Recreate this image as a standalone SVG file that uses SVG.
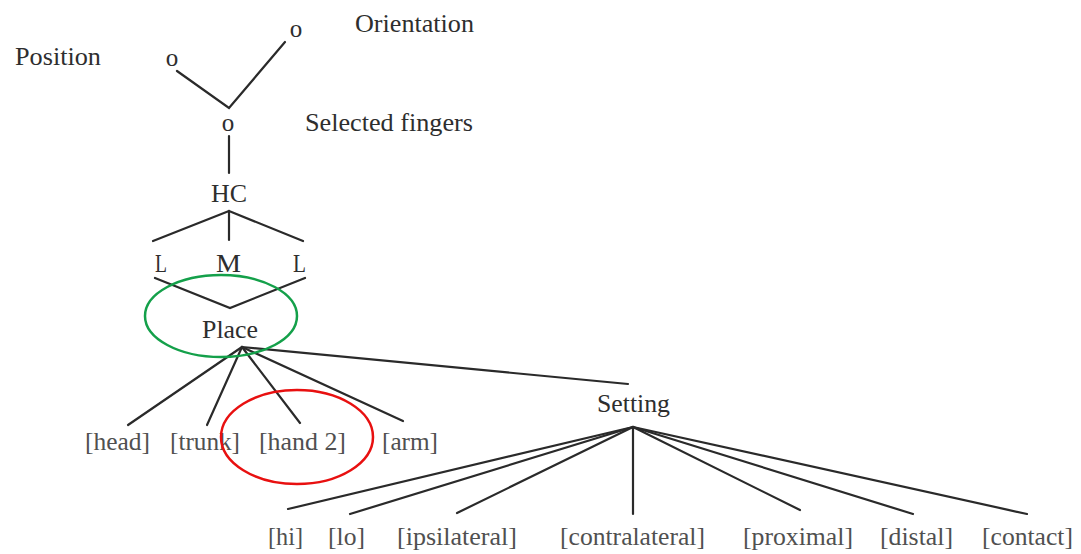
<svg xmlns="http://www.w3.org/2000/svg" width="1081" height="554" viewBox="0 0 1081 554">
<style>
text{font-family:"Liberation Serif","Times New Roman",serif;font-size:25px;fill:#2e2e2e}
.lbl{fill:#505050}
.c{text-anchor:middle}
#connectors line,#connectors polyline{stroke:#2a2a2a;stroke-width:2.2;fill:none;stroke-linecap:round}
.hl{fill:none;stroke-width:2.5}
</style>
<rect width="1081" height="554" fill="#fff"/>
<g id="connectors">
<polyline points="177,71 229,108 285,42"/>
<line x1="229" y1="136" x2="229" y2="173"/>
<line x1="229" y1="211" x2="153" y2="241"/>
<line x1="229" y1="211" x2="229" y2="240"/>
<line x1="229" y1="211" x2="303" y2="241"/>
<polyline points="155,278 230,308 305,278"/>
<line x1="242" y1="347" x2="128" y2="425"/>
<line x1="242" y1="347" x2="207" y2="425"/>
<line x1="242" y1="347" x2="300" y2="423"/>
<line x1="242" y1="347" x2="403" y2="421"/>
<line x1="242" y1="347" x2="628" y2="384"/>
<line x1="633" y1="427" x2="288" y2="509"/>
<line x1="633" y1="427" x2="350" y2="514"/>
<line x1="633" y1="427" x2="457" y2="513"/>
<line x1="633" y1="427" x2="633" y2="514"/>
<line x1="633" y1="427" x2="800" y2="510"/>
<line x1="633" y1="427" x2="913" y2="514"/>
<line x1="633" y1="427" x2="1027" y2="514"/>
</g>
<g id="position"><text x="15" y="65" textLength="86" lengthAdjust="spacingAndGlyphs">Position</text></g>
<g id="orientation"><text x="355" y="32" textLength="119" lengthAdjust="spacingAndGlyphs">Orientation</text></g>
<g id="selected-fingers"><text x="305" y="131" textLength="168" lengthAdjust="spacingAndGlyphs">Selected fingers</text></g>
<g id="o-left"><text class="c" x="172" y="66">o</text></g>
<g id="o-right"><text class="c" x="296" y="37">o</text></g>
<g id="o-center"><text class="c" x="228" y="131">o</text></g>
<g id="hc"><text x="211" y="202" textLength="36" lengthAdjust="spacingAndGlyphs">HC</text></g>
<g id="l-left"><text x="155" y="272" textLength="12" lengthAdjust="spacingAndGlyphs">L</text></g>
<g id="m"><text x="216" y="272" textLength="25" lengthAdjust="spacingAndGlyphs">M</text></g>
<g id="l-right"><text x="293" y="272" textLength="13" lengthAdjust="spacingAndGlyphs">L</text></g>
<g id="place"><text x="202" y="338" textLength="56" lengthAdjust="spacingAndGlyphs">Place</text>
<ellipse class="hl" cx="221" cy="316" rx="76" ry="41" stroke="#14a04a"/></g>
<g id="head"><text class="lbl" x="85" y="450" textLength="65" lengthAdjust="spacingAndGlyphs">[head]</text></g>
<g id="trunk"><text class="lbl" x="170" y="450" textLength="70" lengthAdjust="spacingAndGlyphs">[trunk]</text></g>
<g id="hand2"><text class="lbl" x="259" y="450" textLength="87" lengthAdjust="spacingAndGlyphs">[hand 2]</text>
<ellipse class="hl" cx="297" cy="437" rx="76" ry="47" stroke="#e81010"/></g>
<g id="arm"><text class="lbl" x="382" y="450" textLength="56" lengthAdjust="spacingAndGlyphs">[arm]</text></g>
<g id="setting"><text x="597" y="412" textLength="73" lengthAdjust="spacingAndGlyphs">Setting</text></g>
<g id="hi"><text class="lbl" x="268" y="545" textLength="35" lengthAdjust="spacingAndGlyphs">[hi]</text></g>
<g id="lo"><text class="lbl" x="328" y="545" textLength="37" lengthAdjust="spacingAndGlyphs">[lo]</text></g>
<g id="ipsilateral"><text class="lbl" x="397" y="545" textLength="120" lengthAdjust="spacingAndGlyphs">[ipsilateral]</text></g>
<g id="contralateral"><text class="lbl" x="560" y="545" textLength="145" lengthAdjust="spacingAndGlyphs">[contralateral]</text></g>
<g id="proximal"><text class="lbl" x="743" y="545" textLength="110" lengthAdjust="spacingAndGlyphs">[proximal]</text></g>
<g id="distal"><text class="lbl" x="880" y="545" textLength="73" lengthAdjust="spacingAndGlyphs">[distal]</text></g>
<g id="contact"><text class="lbl" x="982" y="545" textLength="91" lengthAdjust="spacingAndGlyphs">[contact]</text></g>
</svg>
